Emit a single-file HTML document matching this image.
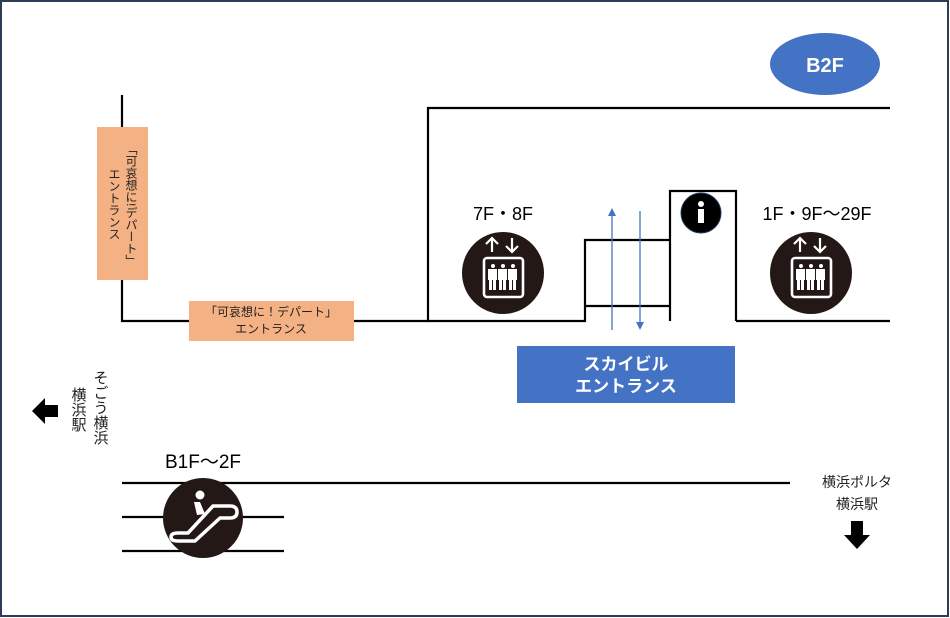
<!DOCTYPE html>
<html><head><meta charset="utf-8"><style>
html,body{margin:0;padding:0;background:#fff;}
svg{display:block;}
text{font-family:"Liberation Sans","Noto Sans CJK JP",sans-serif;}
</style></head><body>
<svg width="950" height="618" viewBox="0 0 950 618" xmlns="http://www.w3.org/2000/svg">
<defs>
<g id="elev">
<circle cx="0" cy="0" r="41" fill="#231815"/>
<g stroke="#fff" stroke-width="2.2" fill="none">
<line x1="-11" y1="-21" x2="-11" y2="-35"/><polyline points="-17,-29 -11,-35 -5,-29"/>
<line x1="9" y1="-35" x2="9" y2="-21"/><polyline points="3,-27 9,-21 15,-27"/>
<rect x="-19" y="-15" width="39" height="39" rx="3" stroke-width="2.6"/>
</g>
<g fill="#fff">
<circle cx="-10" cy="-7" r="2"/><circle cx="0" cy="-7" r="2"/><circle cx="10" cy="-7" r="2"/>
<rect x="-15" y="-4" width="9" height="11"/><rect x="-5" y="-4" width="9" height="11"/><rect x="5" y="-4" width="9" height="11"/>
<rect x="-14" y="7" width="3" height="10"/><rect x="-10" y="7" width="3" height="10"/>
<rect x="-4" y="7" width="3" height="10"/><rect x="0" y="7" width="3" height="10"/>
<rect x="6" y="7" width="3" height="10"/><rect x="10" y="7" width="3" height="10"/>
</g>
</g>
</defs>
<rect x="1" y="1" width="947" height="615" fill="#fff" stroke="#2e3d55" stroke-width="2"/>

<ellipse cx="825" cy="64" rx="55" ry="31" fill="#4472c4"/>
<text x="825" y="72" font-size="20" font-weight="bold" fill="#fff" text-anchor="middle">B2F</text>

<g stroke="#000" stroke-width="2.2" fill="none">
<line x1="122" y1="95" x2="122" y2="127"/>
<polyline points="122,280 122,321 189,321"/>
<polyline points="354,321 428,321 428,108 890,108"/>
<polyline points="428,321 585,321 585,240 670,240"/>
<line x1="585" y1="306" x2="670" y2="306"/>
<polyline points="670,321 670,191 736,191 736,321"/>
<line x1="736" y1="321" x2="890" y2="321"/>
<line x1="122" y1="483" x2="790" y2="483"/>
<line x1="122" y1="517" x2="284" y2="517"/>
<line x1="122" y1="551" x2="284" y2="551"/>
</g>

<rect x="97" y="127" width="51" height="153" fill="#f4b183"/>
<text font-size="12" fill="#222" style="writing-mode:vertical-rl" x="131" y="143">「可哀想に!デパート」</text>
<text font-size="12" fill="#222" style="writing-mode:vertical-rl" x="114" y="168">エントランス</text>
<rect x="189" y="301" width="165" height="40" fill="#f4b183"/>
<text x="271" y="316" font-size="12" fill="#222" text-anchor="middle">「可哀想に！デパート」</text>
<text x="271" y="333" font-size="12" fill="#222" text-anchor="middle">エントランス</text>

<text x="503" y="220" font-size="18" fill="#000" text-anchor="middle">7F・8F</text>
<text x="817" y="220" font-size="18" fill="#000" text-anchor="middle">1F・9F～29F</text>
<text x="203" y="468" font-size="19" fill="#000" text-anchor="middle">B1F～2F</text>

<use href="#elev" x="503" y="273"/>
<use href="#elev" x="811" y="273"/>

<circle cx="701" cy="213" r="20" fill="#000" stroke="#1f3864" stroke-width="1"/>
<circle cx="701" cy="204" r="3" fill="#fff"/>
<rect x="698" y="209" width="6" height="14" fill="#fff"/>

<g stroke="#4472c4" stroke-width="1.3" fill="#4472c4">
<line x1="612" y1="330" x2="612" y2="214"/>
<polygon points="608,216 612,208 616,216" stroke="none"/>
<line x1="640" y1="211" x2="640" y2="322"/>
<polygon points="636,322 640,330 644,322" stroke="none"/>
</g>
<rect x="517" y="346" width="218" height="57" fill="#4472c4"/>
<text x="626" y="370" font-size="17" font-weight="bold" fill="#fff" text-anchor="middle">スカイビル</text>
<text x="626" y="392" font-size="17" font-weight="bold" fill="#fff" text-anchor="middle">エントランス</text>

<circle cx="203" cy="518" r="40" fill="#231815"/>
<circle cx="200" cy="495" r="4.5" fill="#fff"/>
<path d="M194,502 L200,502 L205,514 L197,515 Z" fill="#fff"/>
<path d="M178,533 L188,533 L213,506 L230,506 Q237,506 237,512 Q237,518 230,518 L220,518 L195,541 L178,541 Q171,541 171,537 Q171,533 178,533 Z" fill="none" stroke="#fff" stroke-width="3.5" stroke-linejoin="round"/>

<polygon points="32,411 45,398 45,405 58,405 58,417 45,417 45,424" fill="#000"/>
<text font-size="15" fill="#222" style="writing-mode:vertical-rl" x="100" y="370">そごう横浜</text>
<text font-size="15" fill="#222" style="writing-mode:vertical-rl" x="78" y="387">横浜駅</text>

<text x="857" y="487" font-size="14" fill="#222" text-anchor="middle">横浜ポルタ</text>
<text x="857" y="509" font-size="14" fill="#222" text-anchor="middle">横浜駅</text>
<polygon points="851,521 863,521 863,535 870,535 857,549 844,535 851,535" fill="#000"/>
</svg>
</body></html>
